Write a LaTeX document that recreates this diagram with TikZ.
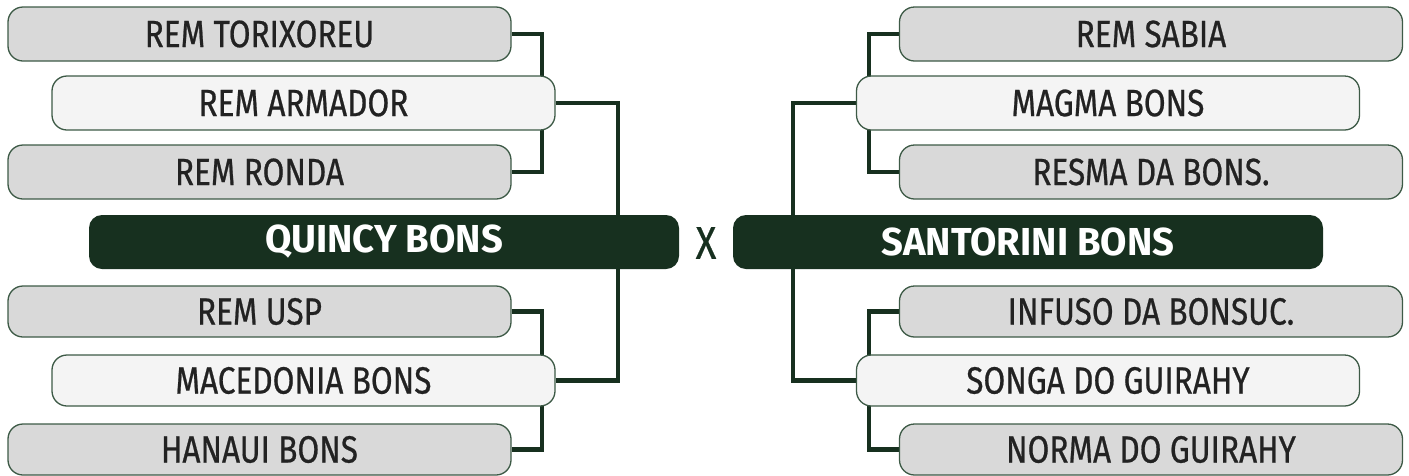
\documentclass[tikz,border=0pt]{standalone}
\usepackage{fontspec}
\setmainfont{Fira Sans}[FakeStretch=0.83, FakeBold=0.6]
\newfontfamily\titlefont{Fira Sans}[FakeStretch=0.98]
\usetikzlibrary{backgrounds}
\definecolor{dkgreen}{HTML}{17301F}
\definecolor{bordergreen}{HTML}{3D5A46}
\definecolor{outerfill}{HTML}{D9D9D9}
\definecolor{midfill}{HTML}{F4F4F4}
\definecolor{labeltext}{HTML}{222222}
\tikzset{
  teambox/.style={draw=bordergreen, line width=1.3pt, rounded corners=15pt,
    minimum width=503pt, inner sep=0pt, text=labeltext,
    font=\fontsize{38}{38}\selectfont},
  outerbox/.style={teambox, fill=outerfill},
  midbox/.style={teambox, fill=midfill},
  topbox/.style={minimum height=54pt},
  botbox/.style={minimum height=51pt},
  mainbox/.style={fill=dkgreen, rounded corners=13pt, minimum width=590pt,
    minimum height=54pt, inner sep=0pt, text=white,
    font=\titlefont\bfseries\fontsize{39}{39}\selectfont},
  link/.style={draw=dkgreen, line width=4.3pt}
}
\begin{document}
\begin{tikzpicture}[x=1pt,y=-1pt]
\useasboundingbox (0,0) rectangle (1409,475);
% left column
\node[outerbox,topbox] (l1) at (259.5,34) {REM TORIXOREU};
\node[midbox,topbox]   (l2) at (303.5,103) {REM ARMADOR};
\node[outerbox,topbox] (l3) at (259.5,172) {REM RONDA};
\node[mainbox]         (q)  at (384,242) {QUINCY BONS};
\node[outerbox,botbox] (l4) at (259.5,311.5) {REM USP};
\node[midbox,botbox]   (l5) at (303.5,380.5) {MACEDONIA BONS};
\node[outerbox,botbox] (l6) at (259.5,449.5) {HANAUI BONS};
% right column
\node[outerbox,topbox] (r1) at (1151,34) {REM SABIA};
\node[midbox,topbox]   (r2) at (1108,103) {MAGMA BONS};
\node[outerbox,topbox] (r3) at (1151,172) {RESMA DA BONS.};
\node[mainbox]         (s)  at (1028,242) {SANTORINI BONS};
\node[outerbox,botbox] (r4) at (1151,311.5) {INFUSO DA BONSUC.};
\node[midbox,botbox]   (r5) at (1108,380.5) {SONGA DO GUIRAHY};
\node[outerbox,botbox] (r6) at (1151,449.5) {NORMA DO GUIRAHY};
% versus mark
\node[text=dkgreen, font=\fontsize{46}{46}\selectfont, inner sep=0pt] (vs) at (706,243) {X};
% junction columns
\coordinate (lx) at (542,0);
\coordinate (lq) at (618,0);
\coordinate (rx) at (869,0);
\coordinate (rs) at (793,0);
\begin{scope}[on background layer]
  \draw[link] (l1.east) -- (l1.east -| lx) -- (l3.east -| lx) -- (l3.east);
  \draw[link] (l2.east) -| (q.north -| lq);
  \draw[link] (l4.east) -- (l4.east -| lx) -- (l6.east -| lx) -- (l6.east);
  \draw[link] (l5.east) -| (q.south -| lq);
  \draw[link] (r1.west) -- (r1.west -| rx) -- (r3.west -| rx) -- (r3.west);
  \draw[link] (r2.west) -| (s.north -| rs);
  \draw[link] (r4.west) -- (r4.west -| rx) -- (r6.west -| rx) -- (r6.west);
  \draw[link] (r5.west) -| (s.south -| rs);
\end{scope}
\end{tikzpicture}
\end{document}
